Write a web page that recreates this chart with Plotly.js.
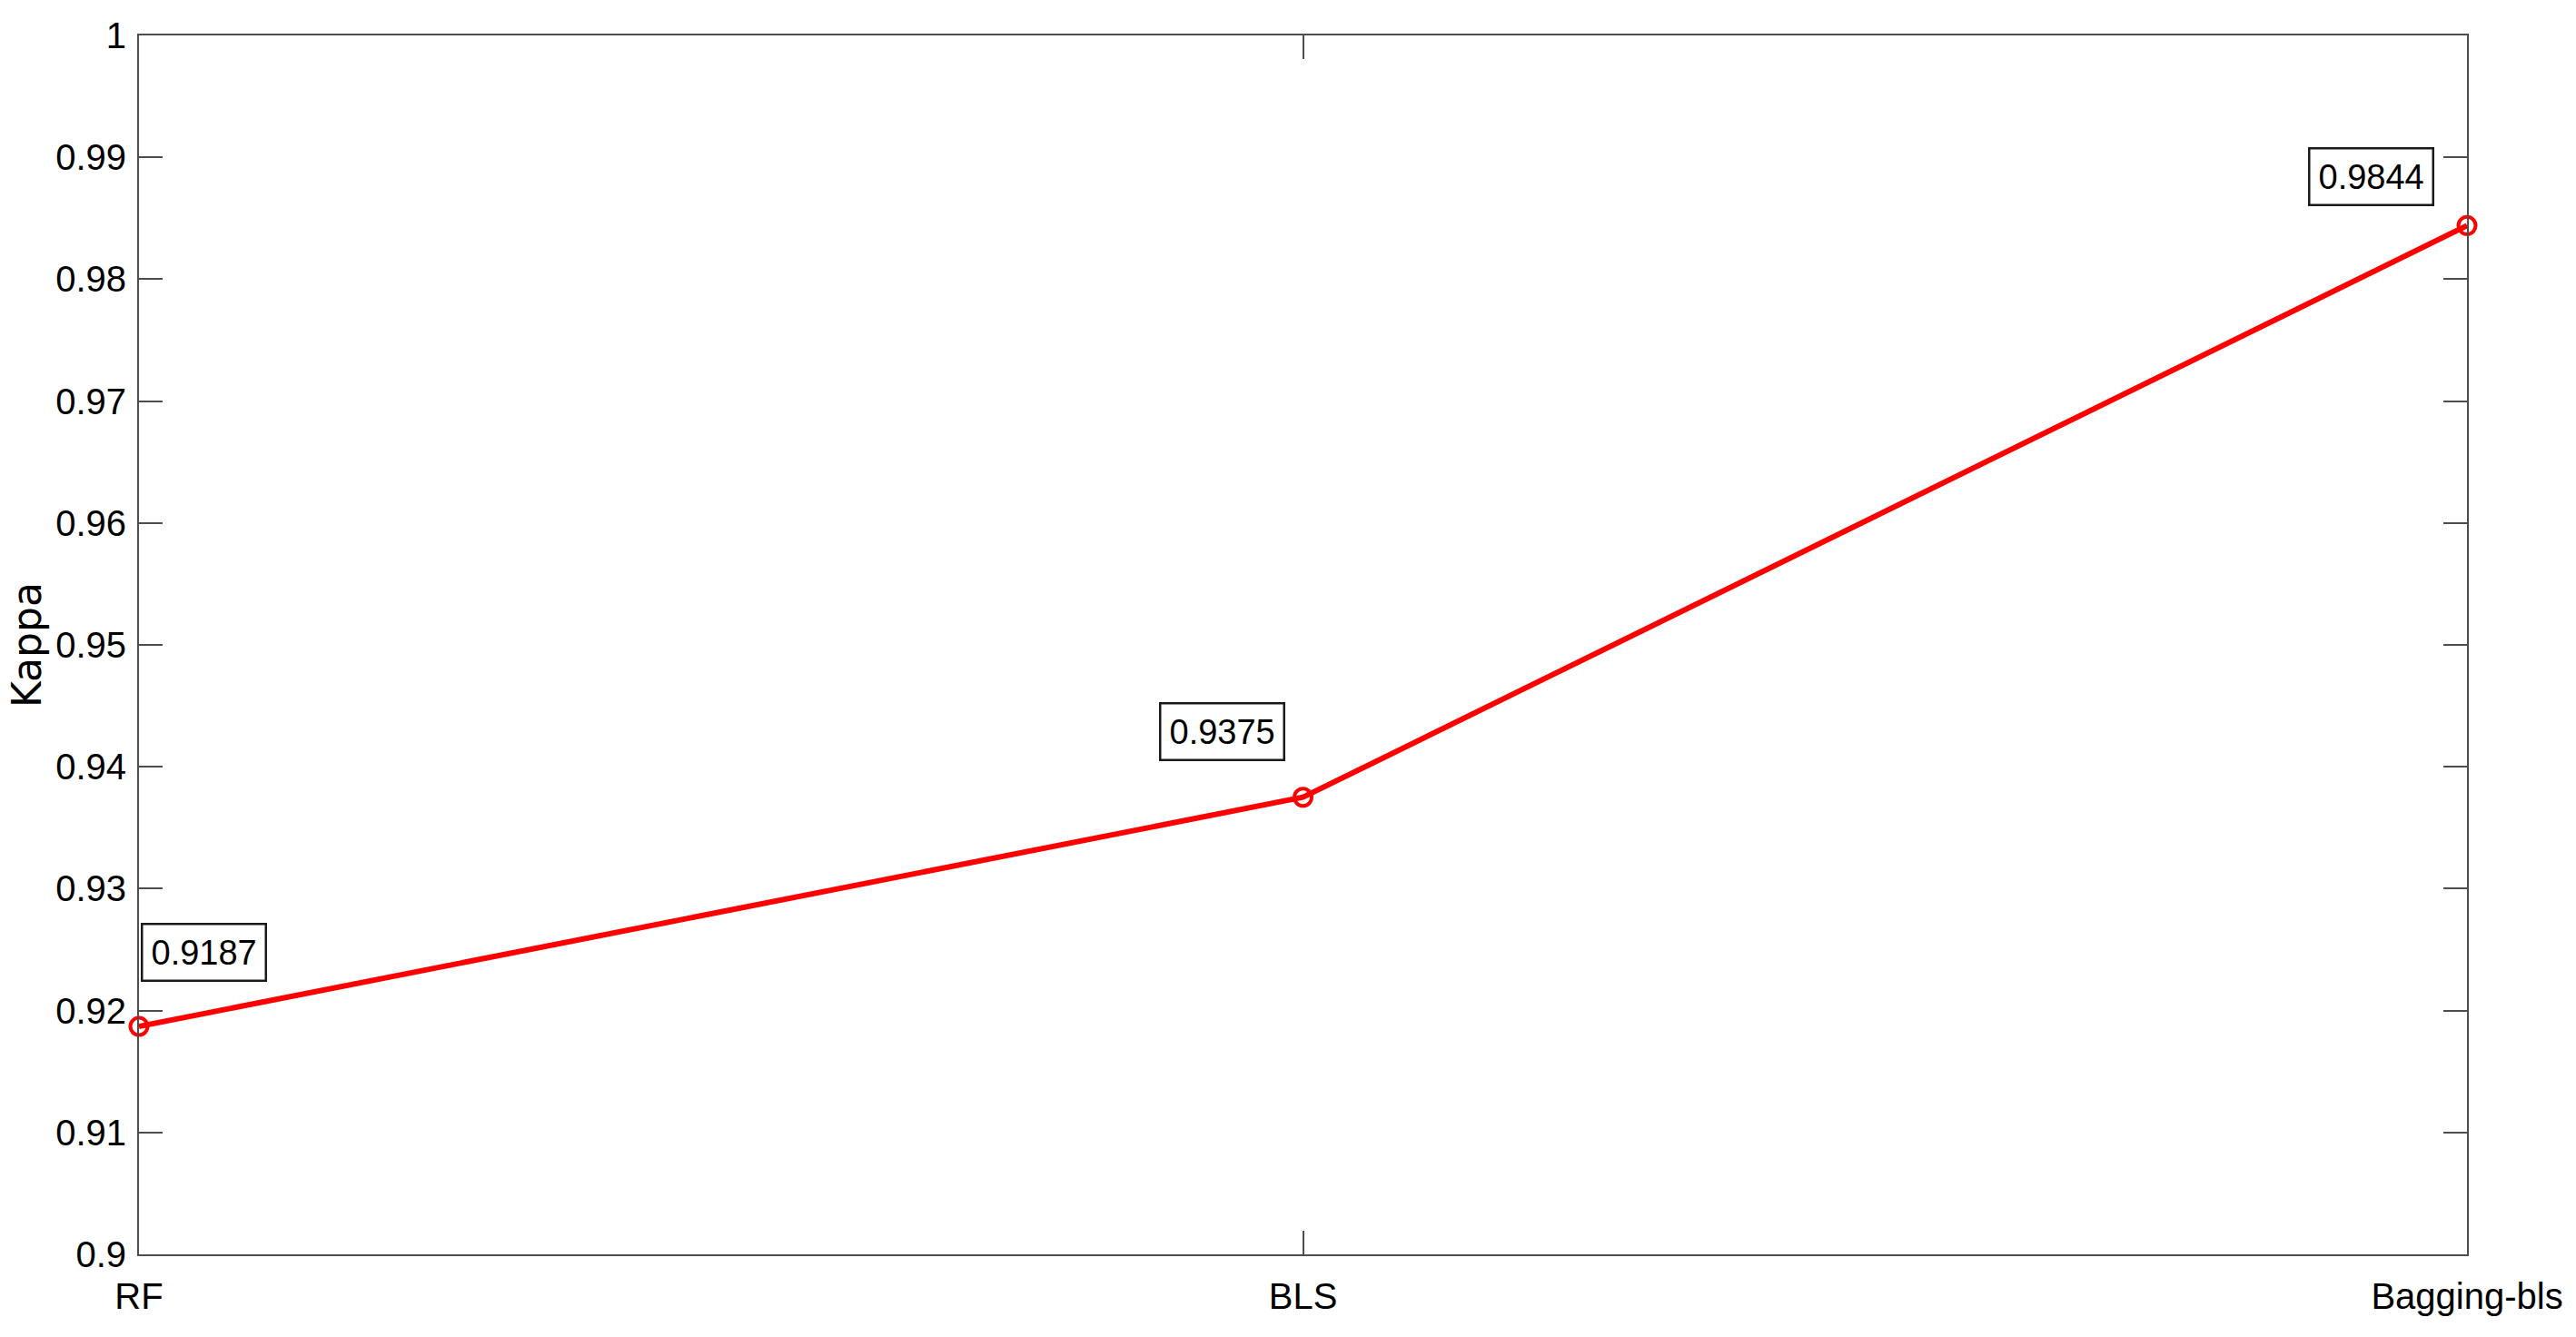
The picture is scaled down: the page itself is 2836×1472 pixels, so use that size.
<!DOCTYPE html>
<html>
<head>
<meta charset="utf-8">
<script src="https://cdn.plot.ly/plotly-3.0.1.min.js"></script>
<style>
  html, body { margin: 0; padding: 0; background: #ffffff; }
  #chart { width: 2836px; height: 1472px; }
</style>
</head>
<body>
<div id="chart"></div>
<script>
// Kappa score per model
const models = ["RF", "BLS", "Bagging-bls"];
const kappa = [0.9187, 0.9375, 0.9844];
const yTicks = [0.9, 0.91, 0.92, 0.93, 0.94, 0.95, 0.96, 0.97, 0.98, 0.99, 1];
const yLabel = "Kappa";

const LINE_COLOR = "#ff0000";
const AXIS_COLOR = "#4d4d4d";
const FONT = "'Liberation Sans', Arial, sans-serif";

// label box offsets from each point, px (x right, y up)
const labelShift = [
  { x: 71, y: 82 },
  { x: -89, y: 72 },
  { x: -106, y: 54 },
];

const trace = {
  x: models,
  y: kappa,
  type: "scatter",
  mode: "lines+markers",
  line: { color: LINE_COLOR, width: 6 },
  marker: {
    symbol: "circle-open",
    color: LINE_COLOR,
    size: 19,
    line: { color: LINE_COLOR, width: 4 },
  },
  cliponaxis: false,
  hoverinfo: "skip",
};

const annotations = models.map((m, i) => ({
  x: m,
  y: kappa[i],
  xref: "x",
  yref: "y",
  text: kappa[i].toFixed(4),
  showarrow: false,
  xshift: labelShift[i].x,
  yshift: labelShift[i].y,
  font: { family: FONT, size: 38, color: "#000000" },
  bgcolor: "#ffffff",
  bordercolor: "#1a1a1a",
  borderwidth: 2.5,
  borderpad: 9,
}));

// y-axis title, placed by hand so it sits where the original one does
annotations.push({
  xref: "paper",
  yref: "paper",
  x: 0,
  y: 0.5,
  xanchor: "center",
  yanchor: "middle",
  xshift: -124,
  textangle: -90,
  showarrow: false,
  text: yLabel,
  font: { family: "'DejaVu Sans', sans-serif", size: 44, color: "#000000" },
});

const axisBase = {
  showline: true,
  linecolor: AXIS_COLOR,
  linewidth: 2,
  mirror: "ticks",
  ticks: "inside",
  ticklen: 26,
  tickwidth: 2,
  tickcolor: AXIS_COLOR,
  showgrid: false,
  zeroline: false,
};

const layout = {
  width: 2836,
  height: 1472,
  paper_bgcolor: "#ffffff",
  plot_bgcolor: "#ffffff",
  margin: { t: 39, r: 120, b: 91, l: 153 },
  showlegend: false,
  xaxis: {
    ...axisBase,
    type: "category",
    range: [0, models.length - 1],
    tickfont: { family: FONT, size: 40, color: "#000000" },
    ticklabelstandoff: 10,
  },
  yaxis: {
    ...axisBase,
    range: [0.9, 1],
    tickvals: yTicks,
    ticktext: yTicks.map((v) => String(v)),
    tickfont: { family: FONT, size: 40, color: "#000000" },
    ticklabelstandoff: 4,
  },
  annotations: annotations,
};

Plotly.newPlot("chart", [trace], layout, { displayModeBar: false, staticPlot: true });
</script>
</body>
</html>
